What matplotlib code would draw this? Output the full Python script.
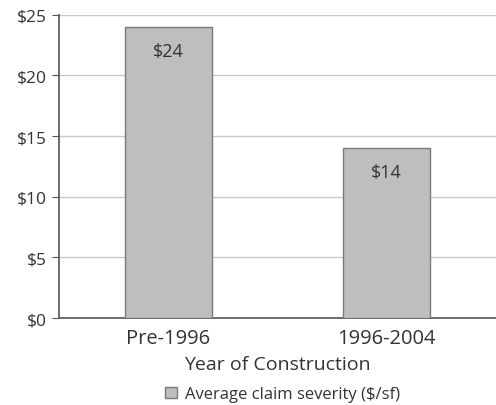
import matplotlib.pyplot as plt
from matplotlib.patches import Patch

categories = ['Pre-1996', '1996-2004']
severity = [24, 14]
yticks = [0, 5, 10, 15, 20, 25]

plt.rcParams['font.family'] = ['Open Sans', 'DejaVu Sans']

fig = plt.figure(figsize=(4.96, 4.06), dpi=100)
ax = fig.add_axes([0.119, 0.214, 0.881, 0.747])

x = range(len(categories))
bars = ax.bar(x, severity, width=0.4, color='#bebebe', edgecolor='#7a7a7a', linewidth=1, zorder=3)
for b, v in zip(bars, severity):
    ax.text(b.get_x() + b.get_width() / 2, v - 1.2, f'${v}', ha='center', va='top',
            fontsize=13, color='#333333', zorder=4)

ax.set_xlim(-0.5, 1.5)
ax.set_ylim(0, 25)
ax.set_yticks(yticks)
ax.set_yticklabels([f'${t}' for t in yticks])
ax.set_xticks(list(x))
ax.set_xticklabels(categories)
ax.tick_params(axis='y', length=5, color='#555555', labelsize=12.5, labelcolor='#333333', pad=4)
ax.tick_params(axis='x', length=0, labelsize=14.5, labelcolor='#333333', pad=7)
ax.grid(axis='y', color='#c8c8c8', linewidth=1, zorder=0)

for s in ['top', 'right']:
    ax.spines[s].set_visible(False)
for s in ['left', 'bottom']:
    ax.spines[s].set_color('#555555')
    ax.spines[s].set_linewidth(1.2)

ax.set_xlabel('Year of Construction', fontsize=14, color='#333333', labelpad=5)

handle = Patch(facecolor='#bebebe', edgecolor='#7a7a7a', label='Average claim severity ($/sf)')
fig.legend(handles=[handle], loc='lower center', bbox_to_anchor=(0.57, -0.03), frameon=False,
           fontsize=12, handlelength=0.7, handleheight=0.7, handletextpad=0.5,
           labelcolor='#333333')

fig.savefig('out.png', dpi=100)
